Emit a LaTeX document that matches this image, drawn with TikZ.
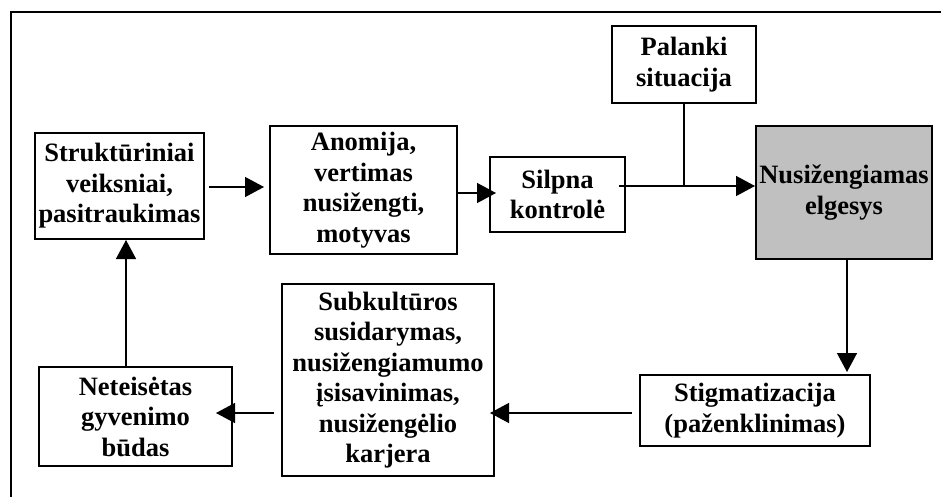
\documentclass[tikz,border=0pt]{standalone}
\usepackage{fontspec}
\setmainfont{Liberation Serif}
\usetikzlibrary{arrows.meta}
\definecolor{colgray}{RGB}{192,192,192}
\tikzset{
  blok/.style={
    draw,
    line width=2pt,
    inner sep=0pt,
    align=center,
    font=\bfseries\fontsize{26.5}{30.5}\selectfont
  },
  link/.style={line width=1.4pt},
  arr/.style={link, -{Triangle[length=19pt,width=20pt]}}
}

\begin{document}
\begin{tikzpicture}[x=1pt,y=-1pt]
  \useasboundingbox (0,0) rectangle (941,497);

  % frame
  \draw[line width=2pt] (11,497) -- (11,12) -- (941,12);

  % The boxes
  \node[blok, text width=169pt, minimum height=106pt] (struk) at (119.5,186)
    {Struktūriniai\\ veiksniai,\\ pasitraukimas};
  \node[blok, text width=187pt, minimum height=128pt] (anom) at (363.5,190)
    {Anomija,\\ vertimas\\ nusižengti,\\ motyvas};
  \node[blok, text width=135pt, minimum height=75pt] (silp) at (557.5,194.5)
    {Silpna\\ kontrolė};
  \node[blok, text width=144pt, minimum height=77pt] (palank) at (684,64.5)
    {Palanki\\ situacija};
  \node[blok, fill=colgray, text width=176pt, minimum height=133pt] (nus) at (844,192.5)
    {Nusižengiamas\\ elgesys};
  \node[blok, text width=230pt, minimum height=71pt] (stig) at (755,410.5)
    {Stigmatizacija\\ (paženklinimas)};
  \node[blok, text width=212pt, minimum height=192pt] (subk) at (388,380)
    {Subkultūros\\ susidarymas,\\ nusižengiamumo\\ įsisavinimas,\\ nusižengėlio\\ karjera};
  \node[blok, text width=193pt, minimum height=99pt] (netei) at (135.5,416.5)
    {Neteisėtas\\ gyvenimo\\ būdas};

  % The connectors
  \path ([yshift=-1pt]struk.east) coordinate (strukout);
  \path ([yshift=1.5pt]silp.west) coordinate (silpin);
  \path ([yshift=8.5pt]silp.east) coordinate (silpout);
  \path ([xshift=3pt]nus.south) coordinate (nusout);
  \path ([yshift=-2.5pt]stig.west) coordinate (stigout);
  \path ([xshift=-9.5pt]netei.north) coordinate (neteiout);
  \coordinate (join) at (silpout -| palank.south);

  \draw[arr, shorten <=4pt, shorten >=5pt] (strukout) -- (strukout -| anom.west);
  \draw[arr, shorten >=-7pt] (silpin -| anom.east) -- (silpin);
  \draw[arr, shorten <=-7pt] (silpout) -- (silpout -| nus.west);
  \draw[link] (palank.south) -- (join);
  \draw[arr, shorten >=2pt] (nusout) -- (nusout |- stig.north);
  \draw[arr, shorten <=7pt, shorten >=-5pt] (stigout) -- (stigout -| subk.east);
  \draw[arr, shorten <=7pt, shorten >=-17pt] (stigout -| subk.west) -- (stigout -| netei.east);
  \draw[arr] (neteiout) -- (neteiout |- struk.south);
\end{tikzpicture}
\end{document}
